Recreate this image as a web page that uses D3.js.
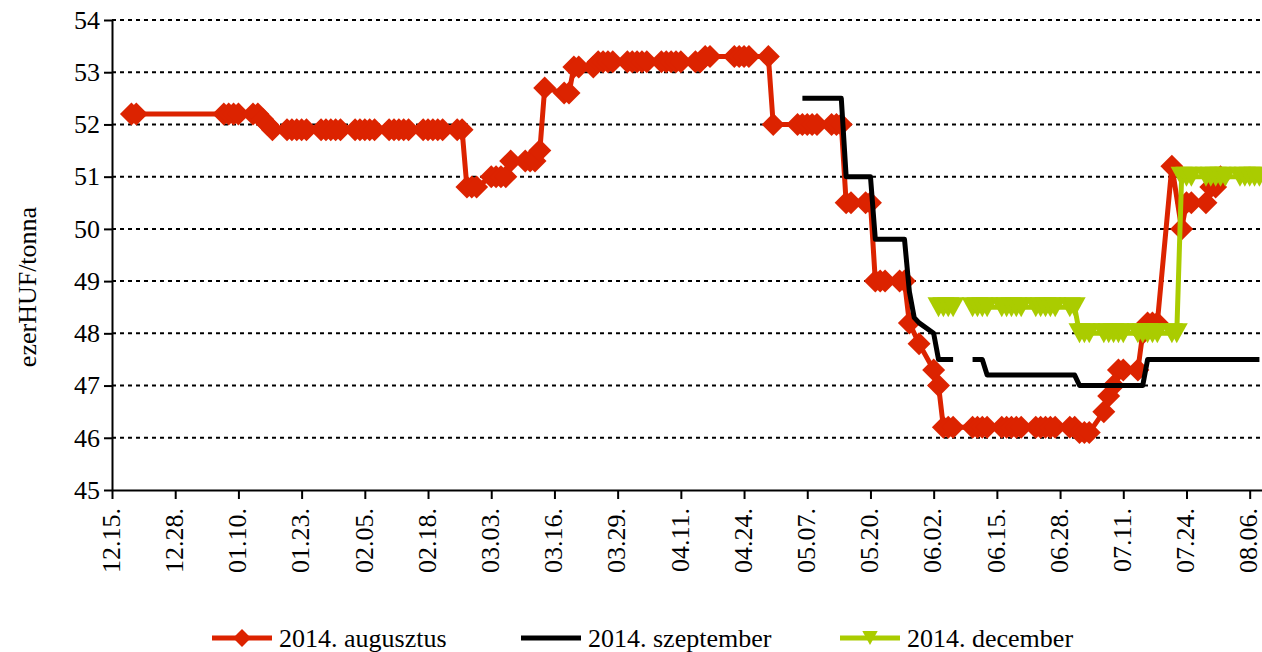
<!DOCTYPE html>
<html>
<head>
<meta charset="utf-8">
<script src="https://cdn.jsdelivr.net/npm/d3@7"></script>
<style>
  body { margin: 0; background: #fff; }
  svg { display: block; }
  text { font-family: "Liberation Serif", "Times New Roman", serif; font-size: 26px; fill: #000; }
</style>
</head>
<body>
<svg id="chart" width="1262" height="652"></svg>
<script>
// ---------------- DATA ----------------
const seriesNames = ["2014. augusztus", "2014. szeptember", "2014. december"];
const yTicks = [45, 46, 47, 48, 49, 50, 51, 52, 53, 54];
const xTickDates = ["2013-12-15","2013-12-28","2014-01-10","2014-01-23","2014-02-05","2014-02-18",
  "2014-03-03","2014-03-16","2014-03-29","2014-04-11","2014-04-24","2014-05-07","2014-05-20",
  "2014-06-02","2014-06-15","2014-06-28","2014-07-11","2014-07-24","2014-08-06"];

const augusztus = [
  ["2013-12-19",52.2],["2013-12-20",52.2],
  ["2014-01-07",52.2],["2014-01-08",52.2],["2014-01-09",52.2],["2014-01-10",52.2],
  ["2014-01-13",52.2],["2014-01-14",52.2],["2014-01-15",52.1],["2014-01-16",52.0],["2014-01-17",51.9],
  ["2014-01-20",51.9],["2014-01-21",51.9],["2014-01-22",51.9],["2014-01-23",51.9],["2014-01-24",51.9],
  ["2014-01-27",51.9],["2014-01-28",51.9],["2014-01-29",51.9],["2014-01-30",51.9],["2014-01-31",51.9],
  ["2014-02-03",51.9],["2014-02-04",51.9],["2014-02-05",51.9],["2014-02-06",51.9],["2014-02-07",51.9],
  ["2014-02-10",51.9],["2014-02-11",51.9],["2014-02-12",51.9],["2014-02-13",51.9],["2014-02-14",51.9],
  ["2014-02-17",51.9],["2014-02-18",51.9],["2014-02-19",51.9],["2014-02-20",51.9],["2014-02-21",51.9],
  ["2014-02-24",51.9],["2014-02-25",51.9],["2014-02-26",50.8],["2014-02-27",50.8],["2014-02-28",50.8],
  ["2014-03-03",51.0],["2014-03-04",51.0],["2014-03-05",51.0],["2014-03-06",51.0],["2014-03-07",51.3],
  ["2014-03-10",51.3],["2014-03-11",51.3],["2014-03-12",51.3],["2014-03-13",51.5],["2014-03-14",52.7],
  ["2014-03-18",52.6],["2014-03-19",52.6],["2014-03-20",53.1],["2014-03-21",53.1],
  ["2014-03-24",53.1],["2014-03-25",53.2],["2014-03-26",53.2],["2014-03-27",53.2],["2014-03-28",53.2],
  ["2014-03-31",53.2],["2014-04-01",53.2],["2014-04-02",53.2],["2014-04-03",53.2],["2014-04-04",53.2],
  ["2014-04-07",53.2],["2014-04-08",53.2],["2014-04-09",53.2],["2014-04-10",53.2],["2014-04-11",53.2],
  ["2014-04-14",53.2],["2014-04-15",53.2],["2014-04-16",53.3],["2014-04-17",53.3],
  ["2014-04-22",53.3],["2014-04-23",53.3],["2014-04-24",53.3],["2014-04-25",53.3],
  ["2014-04-29",53.3],["2014-04-30",52.0],
  ["2014-05-05",52.0],["2014-05-06",52.0],["2014-05-07",52.0],["2014-05-08",52.0],["2014-05-09",52.0],
  ["2014-05-12",52.0],["2014-05-13",52.0],["2014-05-14",52.0],["2014-05-15",50.5],["2014-05-16",50.5],
  ["2014-05-19",50.5],["2014-05-20",50.5],["2014-05-21",49.0],["2014-05-22",49.0],["2014-05-23",49.0],
  ["2014-05-26",49.0],["2014-05-27",49.0],["2014-05-28",48.2],["2014-05-30",47.8],
  ["2014-06-02",47.3],["2014-06-03",47.0],["2014-06-04",46.2],["2014-06-05",46.2],["2014-06-06",46.2],
  ["2014-06-10",46.2],["2014-06-11",46.2],["2014-06-12",46.2],["2014-06-13",46.2],
  ["2014-06-16",46.2],["2014-06-17",46.2],["2014-06-18",46.2],["2014-06-19",46.2],["2014-06-20",46.2],
  ["2014-06-23",46.2],["2014-06-24",46.2],["2014-06-25",46.2],["2014-06-26",46.2],["2014-06-27",46.2],
  ["2014-06-30",46.2],["2014-07-01",46.2],["2014-07-02",46.1],["2014-07-03",46.1],["2014-07-04",46.1],
  ["2014-07-07",46.5],["2014-07-08",46.8],["2014-07-09",47.0],["2014-07-10",47.3],["2014-07-11",47.3],
  ["2014-07-14",47.3],["2014-07-15",48.0],["2014-07-16",48.2],["2014-07-17",48.2],["2014-07-18",48.2],
  ["2014-07-21",51.2],["2014-07-23",50.0],["2014-07-24",50.5],["2014-07-25",50.5],
  ["2014-07-28",50.5],["2014-07-29",50.8],["2014-07-30",50.8],["2014-07-31",51.0]
];

const szeptember = [
  ["2014-05-06",52.5],["2014-05-07",52.5],["2014-05-08",52.5],["2014-05-09",52.5],
  ["2014-05-12",52.5],["2014-05-13",52.5],["2014-05-14",52.5],["2014-05-15",51.0],["2014-05-16",51.0],
  ["2014-05-19",51.0],["2014-05-20",51.0],["2014-05-21",49.8],["2014-05-22",49.8],["2014-05-23",49.8],
  ["2014-05-26",49.8],["2014-05-27",49.8],["2014-05-28",48.8],["2014-05-29",48.3],["2014-05-30",48.2],
  ["2014-06-02",48.0],["2014-06-03",47.5],["2014-06-04",47.5],["2014-06-05",47.5],["2014-06-06",47.5],
  ["2014-06-09",null],
  ["2014-06-10",47.5],["2014-06-11",47.5],["2014-06-12",47.5],["2014-06-13",47.2],
  ["2014-06-16",47.2],["2014-06-17",47.2],["2014-06-18",47.2],["2014-06-19",47.2],["2014-06-20",47.2],
  ["2014-06-23",47.2],["2014-06-24",47.2],["2014-06-25",47.2],["2014-06-26",47.2],["2014-06-27",47.2],
  ["2014-06-30",47.2],["2014-07-01",47.2],["2014-07-02",47.0],["2014-07-03",47.0],["2014-07-04",47.0],
  ["2014-07-07",47.0],["2014-07-08",47.0],["2014-07-09",47.0],["2014-07-10",47.0],["2014-07-11",47.0],
  ["2014-07-14",47.0],["2014-07-15",47.0],["2014-07-16",47.5],["2014-07-17",47.5],["2014-07-18",47.5],
  ["2014-07-21",47.5],["2014-07-22",47.5],["2014-07-23",47.5],["2014-07-24",47.5],["2014-07-25",47.5],
  ["2014-07-28",47.5],["2014-07-29",47.5],["2014-07-30",47.5],["2014-07-31",47.5],["2014-08-01",47.5],
  ["2014-08-04",47.5],["2014-08-05",47.5],["2014-08-06",47.5],["2014-08-07",47.5],["2014-08-08",47.5]
];

const december = [
  ["2014-06-03",48.5],["2014-06-04",48.5],["2014-06-05",48.5],["2014-06-06",48.5],
  ["2014-06-09",null],
  ["2014-06-10",48.5],["2014-06-11",48.5],["2014-06-12",48.5],["2014-06-13",48.5],
  ["2014-06-16",48.5],["2014-06-17",48.5],["2014-06-18",48.5],["2014-06-19",48.5],["2014-06-20",48.5],
  ["2014-06-23",48.5],["2014-06-24",48.5],["2014-06-25",48.5],["2014-06-26",48.5],["2014-06-27",48.5],
  ["2014-06-30",48.5],["2014-07-01",48.5],["2014-07-02",48.0],["2014-07-03",48.0],["2014-07-04",48.0],
  ["2014-07-07",48.0],["2014-07-08",48.0],["2014-07-09",48.0],["2014-07-10",48.0],["2014-07-11",48.0],
  ["2014-07-14",48.0],["2014-07-15",48.0],["2014-07-16",48.0],["2014-07-17",48.0],["2014-07-18",48.0],
  ["2014-07-21",48.0],["2014-07-22",48.0],["2014-07-23",51.0],["2014-07-24",51.0],["2014-07-25",51.0],
  ["2014-07-28",51.0],["2014-07-29",51.0],["2014-07-30",51.0],["2014-07-31",51.0],["2014-08-01",51.0],
  ["2014-08-04",51.0],["2014-08-05",51.0],["2014-08-06",51.0],["2014-08-07",51.0],["2014-08-08",51.0]
];

// ---------------- CHART ----------------
const RED = "#DC2300", BLACK = "#000000", GREEN = "#AACC00";
const parse = d3.utcParse("%Y-%m-%d");
const svg = d3.select("#chart");

const x = d3.scaleUtc()
  .domain([parse("2013-12-15"), new Date(Date.UTC(2014, 7, 8, 12, 45))])
  .range([112, 1262]);
const y = d3.scaleLinear().domain([45, 54]).range([490, 20]);

// custom symbols
const diamondType = { draw(ctx, size) { const r = Math.sqrt(size / 2);
  ctx.moveTo(0, -r); ctx.lineTo(r, 0); ctx.lineTo(0, r); ctx.lineTo(-r, 0); ctx.closePath(); } };
const triDownType = { draw(ctx, size) { const h = Math.sqrt(size) ; const w = h * 1.1;
  ctx.moveTo(-w / 2, -h / 2); ctx.lineTo(w / 2, -h / 2); ctx.lineTo(0, h / 2); ctx.closePath(); } };

// gridlines
svg.append("g").selectAll("line").data(yTicks.filter(v => v > 45)).join("line")
  .attr("x1", x.range()[0]).attr("x2", x.range()[1])
  .attr("y1", d => y(d)).attr("y2", d => y(d))
  .attr("stroke", "#000").attr("stroke-width", 2).attr("stroke-dasharray", "4,4");

// axes
const yAxis = svg.append("g").attr("transform", `translate(${x.range()[0]},0)`)
  .call(d3.axisLeft(y).tickValues(yTicks).tickFormat(d3.format("d")).tickSize(8).tickSizeOuter(0).tickPadding(4));
yAxis.select(".domain").attr("stroke-width", 2);
yAxis.selectAll(".tick line").attr("stroke-width", 2);
yAxis.selectAll("text").style("font-size", "26px").attr("fill", "#000");

const xAxis = svg.append("g").attr("transform", `translate(0,${y(45)})`)
  .call(d3.axisBottom(x).tickValues(xTickDates.map(parse)).tickFormat(d3.utcFormat("%m.%d.")).tickSize(9).tickSizeOuter(0));
xAxis.select(".domain").attr("stroke-width", 2);
xAxis.selectAll(".tick line").attr("stroke-width", 2);
xAxis.selectAll("text")
  .style("font-size", "26px").attr("fill", "#000")
  .attr("text-anchor", "end")
  .attr("transform", "rotate(-90)")
  .attr("x", -18).attr("y", 0).attr("dy", "0.28em");

// y label
svg.append("text").attr("transform", "translate(27,287) rotate(-90)")
  .attr("text-anchor", "middle").attr("dy", "0.35em").text("ezerHUF/tonna");

// lines
const line = d3.line().defined(d => d[1] != null)
  .x(d => x(parse(d[0]))).y(d => y(d[1]));

function drawSeries(data, color, type, size) {
  const g = svg.append("g");
  g.append("path").datum(data).attr("d", line).attr("fill", "none")
    .attr("stroke", color).attr("stroke-width", 5).attr("stroke-linejoin", "round");
  if (type) {
    g.selectAll("path.m").data(data.filter(d => d[1] != null)).join("path").attr("class", "m")
      .attr("transform", d => `translate(${x(parse(d[0]))},${y(d[1])})`)
      .attr("d", d3.symbol().type(type).size(size)).attr("fill", color);
  }
}
drawSeries(augusztus, RED, diamondType, 264);
drawSeries(szeptember, BLACK, null, 0);
drawSeries(december, GREEN, triDownType, 400);

// legend
const legend = [
  { name: seriesNames[0], color: RED, type: diamondType, size: 160, x0: 212 },
  { name: seriesNames[1], color: BLACK, type: null, size: 0, x0: 521 },
  { name: seriesNames[2], color: GREEN, type: triDownType, size: 196, x0: 840 }
];
const lg = svg.append("g").selectAll("g").data(legend).join("g")
  .attr("transform", d => `translate(${d.x0},638)`);
lg.append("line").attr("x1", 0).attr("x2", 60).attr("stroke", d => d.color).attr("stroke-width", 5);
lg.filter(d => d.type).append("path").attr("transform", "translate(30,0)")
  .attr("d", d => d3.symbol().type(d.type).size(d.size)()).attr("fill", d => d.color);
lg.append("text").attr("x", 67).attr("dy", "0.33em").text(d => d.name);
</script>
</body>
</html>
